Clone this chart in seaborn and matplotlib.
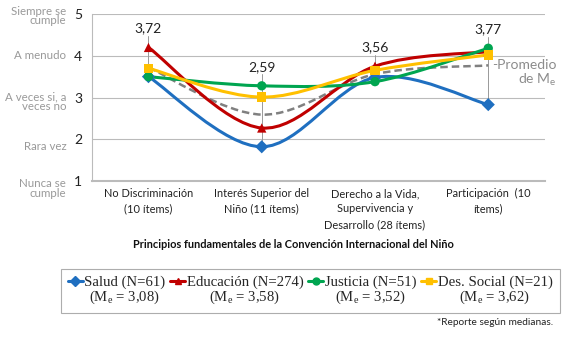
import numpy as np
import pandas as pd
import matplotlib
matplotlib.use("Agg")
import matplotlib.pyplot as plt
import matplotlib.transforms as mtransforms
from matplotlib.path import Path
from matplotlib.patches import PathPatch
from matplotlib.lines import Line2D
from matplotlib.legend_handler import HandlerLine2D
import seaborn as sns

# 資料
categorias = ["No Discriminación\n(10 ítems)", "Interés Superior del\nNiño (11 ítems)",
              "Derecho a la Vida,\nSupervivencia y\nDesarrollo (28 ítems)", "Participación  (10\nítems)"]
salud = [3.50, 1.82, 3.48, 2.83]
educacion = [4.20, 2.27, 3.75, 4.10]
justicia = [3.50, 3.28, 3.38, 4.18]
des_social = [3.70, 3.01, 3.65, 4.02]
promedio = [3.72, 2.59, 3.56, 3.77]
promedio_txt = ["3,72", "2,59", "3,56", "3,77"]
series = ["Salud", "Educación", "Justicia", "Des. Social"]
leyenda = ["Salud (N=61)\n(M$_\\mathregular{e}$ = 3,08)",
           "Educación (N=274)\n(M$_\\mathregular{e}$ = 3,58)",
           "Justicia (N=51)\n(M$_\\mathregular{e}$ = 3,52)",
           "Des. Social (N=21)\n(M$_\\mathregular{e}$ = 3,62)"]
ytick_txt = {4.95: "Siempre se\ncumple", 4: "A menudo", 2.9: "A veces si, a\nveces no",
             1.82: "Rara vez", 0.82: "Nunca se\ncumple"}

colores = ["#1F6FC0", "#C00000", "#00A550", "#FFC000"]
marcadores = ["D", "^", "o", "s"]

sns.set_style("white")
plt.rcParams["font.family"] = ["Lato", "DejaVu Sans"]

df = pd.DataFrame({"x": list(range(4)) * 4,
                   "valor": salud + educacion + justicia + des_social,
                   "serie": np.repeat(series, 4)})

fig = plt.figure(figsize=(5.67, 3.38), dpi=100)
ax = fig.add_axes([0.162, 0.4645, 0.799, 0.494])


def curva_suave(xs, ys):
    # Bezier como el "suavizado" de Excel
    pts = np.column_stack([xs, ys]).astype(float)
    p = np.vstack([pts[0], pts, pts[-1]])
    verts = [tuple(pts[0])]
    codes = [Path.MOVETO]
    for i in range(1, len(p) - 2):
        c1 = p[i] + (p[i + 1] - p[i - 1]) / 6
        c2 = p[i + 1] - (p[i + 2] - p[i]) / 6
        verts += [tuple(c1), tuple(c2), tuple(p[i + 1])]
        codes += [Path.CURVE4] * 3
    return Path(verts, codes)


# líneas verticales (alto-bajo) y etiquetas
todos = np.array([salud, educacion, justicia, des_social])
for i in range(4):
    top = todos[:, i].max() + 0.45
    ax.plot([i, i], [todos[:, i].min(), top - 0.17], color="#999999", lw=0.7, zorder=1)
    ax.text(i, top, promedio_txt[i], ha="center", va="center", fontsize=10, color="#222222")

ax.add_patch(PathPatch(curva_suave(range(4), promedio), fill=False, ec="#808080",
                       lw=1.8, ls=(0, (3, 1.6)), zorder=2))
for k, nombre in enumerate(series):
    d = df[df["serie"] == nombre]
    ax.add_patch(PathPatch(curva_suave(d["x"], d["valor"]), fill=False, ec=colores[k],
                           lw=2.2, zorder=3 + k))

sns.scatterplot(data=df, x="x", y="valor", hue="serie", style="serie",
                palette=colores, markers=marcadores, s=45, edgecolor="none",
                legend=False, ax=ax, zorder=10)

ax.set_xlim(-0.5, 3.5)
ax.set_ylim(1, 5)
ax.set_yticks([1, 2, 3, 4, 5])
ax.set_yticklabels(["1", "2", "3", "4", "5"], fontsize=10, color="#222222")
ax.tick_params(axis="y", length=4, color="#BBBBBB", pad=3)
ax.set_xticks(range(4))
ax.set_xticklabels(categorias, fontsize=7.9, color="#222222", linespacing=1.5)
ax.tick_params(axis="x", length=0, pad=5)
ax.grid(axis="y", color="#BBBBBB", lw=0.8)
for s in ["top", "right"]:
    ax.spines[s].set_visible(False)
ax.spines["left"].set_color("#BBBBBB")
ax.spines["bottom"].set_color("#BBBBBB")
ax.spines["bottom"].set_linewidth(1.5)
ax.set_xlabel("Principios fundamentales de la Convención Internacional del Niño",
              fontsize=7.9, fontweight="bold", color="#111111")
ax.xaxis.set_label_coords(0.446, -0.345)
ax.set_ylabel("")

trans = mtransforms.blended_transform_factory(fig.transFigure, ax.transData)
for yv, t in ytick_txt.items():
    ax.text(0.117, yv, t, transform=trans, ha="right", va="center",
            fontsize=8.3, color="#999999", linespacing=0.85, multialignment="right")

ax.text(3.6, 3.58, "-Promedio\nde M$_\\mathregular{e}$", ha="right", va="center",
        fontsize=10, color="#8C8C8C", linespacing=1.1, multialignment="right")


class HandlerArriba(HandlerLine2D):
    # la línea de la leyenda va en la primera línea del texto
    def create_artists(self, legend, orig_handle, xdescent, ydescent, width, height,
                       fontsize, trans):
        return super().create_artists(legend, orig_handle, xdescent, ydescent - 1.4 * fontsize,
                                      width, height, fontsize, trans)


handles = [Line2D([], [], color=colores[k], marker=marcadores[k], markersize=5, lw=2.2)
           for k in range(4)]
leg = fig.legend(handles, leyenda, loc="center", bbox_to_anchor=(0.547, 0.139), ncol=4,
                 frameon=True, fancybox=False, edgecolor="#999999", handlelength=1.0,
                 handletextpad=0.1, columnspacing=0.35, borderpad=0.5,
                 handler_map={Line2D: HandlerArriba()},
                 prop={"family": "Liberation Serif", "size": 10.6})
leg.get_frame().set_linewidth(0.8)
for t in leg.get_texts():
    t.set_multialignment("center")
    t.set_linespacing(0.95)

fig.text(0.976, 0.047, "*Reporte según medianas.", ha="right", va="center",
         fontsize=7.3, color="#222222")

fig.savefig("out.png", dpi=100)
